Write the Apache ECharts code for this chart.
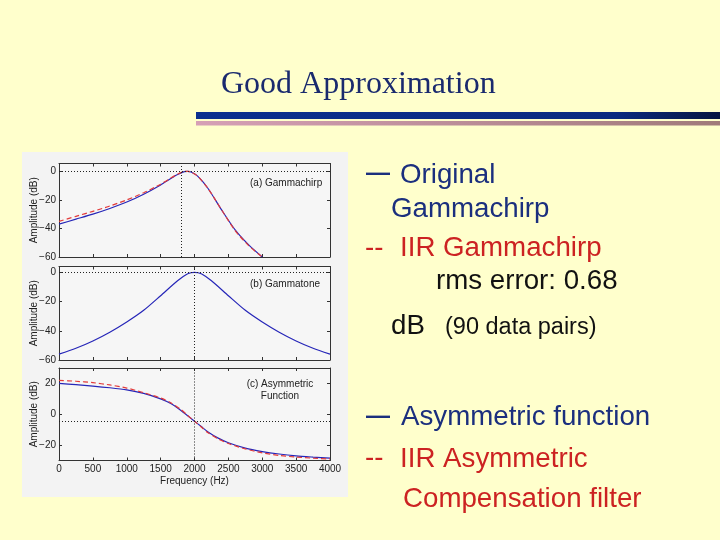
<!DOCTYPE html>
<html><head><meta charset="utf-8">
<script src="https://cdn.jsdelivr.net/npm/echarts@6/dist/echarts.min.js"></script>
<style>html,body{margin:0;padding:0;background:#FFFFCC;}#c{width:720px;height:540px;}</style>
</head><body><div id="c"></div>
<script>
// ---- data ----
const freqA = [0, 250, 500, 750, 1000, 1250, 1500, 1650, 1750, 1850, 1900, 1950, 2050, 2200, 2400, 2600, 2800, 3000];
const gammachirpOrig = [-37, -33.5, -30, -26, -21.5, -16, -9.5, -5, -2.2, -0.2, 0, -0.5, -3.5, -12, -27, -41, -51.5, -60];
const gammachirpIIR  = [-35, -31.5, -28, -24.3, -20, -15, -9, -4.7, -2, -0.1, 0, -0.5, -3.5, -12, -27, -41.5, -52, -60];

const freqB = [0, 250, 500, 750, 1000, 1250, 1500, 1750, 1900, 2000, 2100, 2250, 2500, 2750, 3000, 3250, 3500, 3750, 4000];
const gammatone = [-56, -52, -47, -41, -34, -26, -16, -5.8, -1, 0, -1, -5.8, -16, -26, -34, -41, -47, -52, -56];

const freqC = [0, 250, 500, 750, 1000, 1250, 1500, 1650, 1800, 1900, 2000, 2100, 2200, 2350, 2500, 2750, 3000, 3250, 3500, 3750, 4000];
const asymOrig = [20, 19.2, 18.3, 17.2, 15.8, 13.5, 10, 7, 2.5, -1, -4.5, -8, -11.5, -15.5, -18.5, -22, -24.2, -25.8, -27, -27.8, -28.5];
const asymIIR  = [22, 21.4, 20.5, 19, 17, 14, 10.5, 7.5, 3, -0.8, -4.5, -8.3, -12, -16, -19, -22.5, -25, -26.7, -27.8, -28.5, -29];

const refFreq = [1800, 2000, 2000];      // vertical dotted lines per panel
const refLevel = [0, 0, -4.5];           // horizontal dotted lines per panel
const panelLabels = ['(a) Gammachirp', '(b) Gammatone', '(c) Asymmetric\nFunction'];
const yRanges = [[-60, 5.5], [-60, 4], [-30, 30]];
const yTicks = [[-60, -40, -20, 0], [-60, -40, -20, 0], [-20, 0, 20]];
const xRange = [0, 4000];
const xTicks = [0, 500, 1000, 1500, 2000, 2500, 3000, 3500, 4000];

// ---- chart ----
const FONT = '"Liberation Sans", Arial, Helvetica, sans-serif';
const AX = '#333';
const BLUE = '#2626b8';
const RED = '#e23a3a';
const grids = [
  {left: 59, top: 163.5, width: 271, height: 93.5},
  {left: 59, top: 266.5, width: 271, height: 93.5},
  {left: 59, top: 368, width: 271, height: 92.5}
];
const minus = v => String(v).replace('-', '\u2212');

const xAxes = [], yAxes = [];
grids.forEach((g, i) => {
  const last = i === 2;
  const xCommon = {
    type: 'value', gridIndex: i, min: xRange[0], max: xRange[1], interval: 500,
    axisLine: {show: true, onZero: false, lineStyle: {color: AX, width: 1}},
    axisTick: {show: true, inside: true, length: 3, customValues: xTicks, lineStyle: {color: AX}},
    splitLine: {show: false}
  };
  xAxes.push(Object.assign({}, xCommon, {
    position: 'bottom',
    axisLabel: {show: last, customValues: xTicks, color: '#222', fontFamily: FONT, fontSize: 10, margin: 4,
      formatter: v => String(v)},
    name: last ? 'Frequency (Hz)' : '', nameLocation: 'middle', nameGap: 16, nameMoveOverlap: false,
    nameTextStyle: {color: '#222', fontFamily: FONT, fontSize: 10}
  }));
  xAxes.push(Object.assign({}, xCommon, {position: 'top', axisLabel: {show: false}}));
  const yCommon = {
    type: 'value', gridIndex: i, min: yRanges[i][0], max: yRanges[i][1], interval: 10,
    axisLine: {show: true, onZero: false, lineStyle: {color: AX, width: 1}},
    axisTick: {show: true, inside: true, length: 3, customValues: yTicks[i], lineStyle: {color: AX}},
    splitLine: {show: false}
  };
  yAxes.push(Object.assign({}, yCommon, {
    position: 'left',
    axisLabel: {customValues: yTicks[i], color: '#222', fontFamily: FONT, fontSize: 10, margin: 3,
      formatter: v => minus(v)},
    name: 'Amplitude (dB)', nameLocation: 'middle', nameGap: 20, nameRotate: 90, nameMoveOverlap: false,
    nameTextStyle: {color: '#222', fontFamily: FONT, fontSize: 10}
  }));
  yAxes.push(Object.assign({}, yCommon, {position: 'right', axisLabel: {show: false}}));
});

const refLines = i => ({
  silent: true, symbol: 'none', label: {show: false}, animation: false,
  lineStyle: {color: '#222', type: [1, 2], width: 1},
  emphasis: {disabled: true},
  data: [{xAxis: refFreq[i]}, {yAxis: refLevel[i]}]
});
const zip = (xs, ys) => xs.map((x, k) => [x, ys[k]]);
const lineSeries = (i, xs, ys, color, dashed, withRef) => ({
  type: 'line', xAxisIndex: 2 * i, yAxisIndex: 2 * i, data: zip(xs, ys),
  showSymbol: false, smooth: 0.25, silent: true,
  lineStyle: {color: color, width: 1.2, type: dashed ? [5, 3] : 'solid'},
  markLine: withRef ? refLines(i) : undefined,
  z: dashed ? 3 : 2
});

const navy = '#1b2f7e', red = '#cc2222', big = 27.7;
const txt = (x, y, s, color, size, family, weight) => ({
  type: 'text', x: x, y: y,
  style: {text: s, fill: color, font: `${weight || 'normal'} ${size}px ${family || FONT}`, verticalAlign: 'middle', align: 'left'}
});

const option = {
  animation: false,
  backgroundColor: '#FFFFCC',
  grid: grids.map(g => Object.assign({show: true, backgroundColor: '#F6F6F6', borderWidth: 0}, g)),
  xAxis: xAxes,
  yAxis: yAxes,
  series: [
    lineSeries(0, freqA, gammachirpOrig, BLUE, false, true),
    lineSeries(0, freqA, gammachirpIIR, RED, true, false),
    lineSeries(1, freqB, gammatone, BLUE, false, true),
    lineSeries(2, freqC, asymOrig, BLUE, false, true),
    lineSeries(2, freqC, asymIIR, RED, true, false)
  ],
  graphic: [
    {type: 'rect', z: -10, shape: {x: 22, y: 152, width: 326, height: 345}, style: {fill: '#F3F3F3'}},
    {type: 'rect', shape: {x: 196, y: 112, width: 524, height: 7},
      style: {fill: new echarts.graphic.LinearGradient(0, 0, 1, 0, [{offset: 0, color: '#0b2f8f'}, {offset: 0.8, color: '#0a2a80'}, {offset: 1, color: '#061540'}])}},
    {type: 'rect', shape: {x: 196, y: 121, width: 524, height: 4.5},
      style: {fill: new echarts.graphic.LinearGradient(0, 0, 1, 0, [{offset: 0, color: '#d6a0b6'}, {offset: 1, color: '#a07a7a'}])}},
    txt(221, 85, 'Good Approximation', '#1a2a6e', 32, '"Liberation Serif", "Times New Roman", serif'),
    txt(250, 183, panelLabels[0], '#222', 10),
    txt(250, 284, panelLabels[1], '#222', 10),
    {type: 'text', x: 280, y: 390, style: {text: panelLabels[2], fill: '#222', font: `10px ${FONT}`, align: 'center', verticalAlign: 'middle', lineHeight: 12}},
    txt(366, 173, '\u2014', navy, 24, null, 'bold'),
    txt(400, 175, 'Original', navy, big),
    txt(391, 209, 'Gammachirp', navy, big),
    txt(365, 248, '--', red, big),
    txt(400, 248, 'IIR Gammachirp', red, big),
    txt(436, 281, 'rms error: 0.68', '#111', big),
    txt(391, 326, 'dB', '#111', big),
    txt(445, 328, '(90 data pairs)', '#111', 23.5),
    txt(366, 416, '\u2014', navy, 24, null, 'bold'),
    txt(401, 417, 'Asymmetric function', navy, big),
    txt(365, 458, '--', red, big),
    txt(400, 459, 'IIR Asymmetric', red, big),
    txt(403, 499, 'Compensation filter', red, big)
  ]
};
const chart = echarts.init(document.getElementById('c'), null, {renderer: 'canvas'});
chart.setOption(option);
</script>
</body></html>
